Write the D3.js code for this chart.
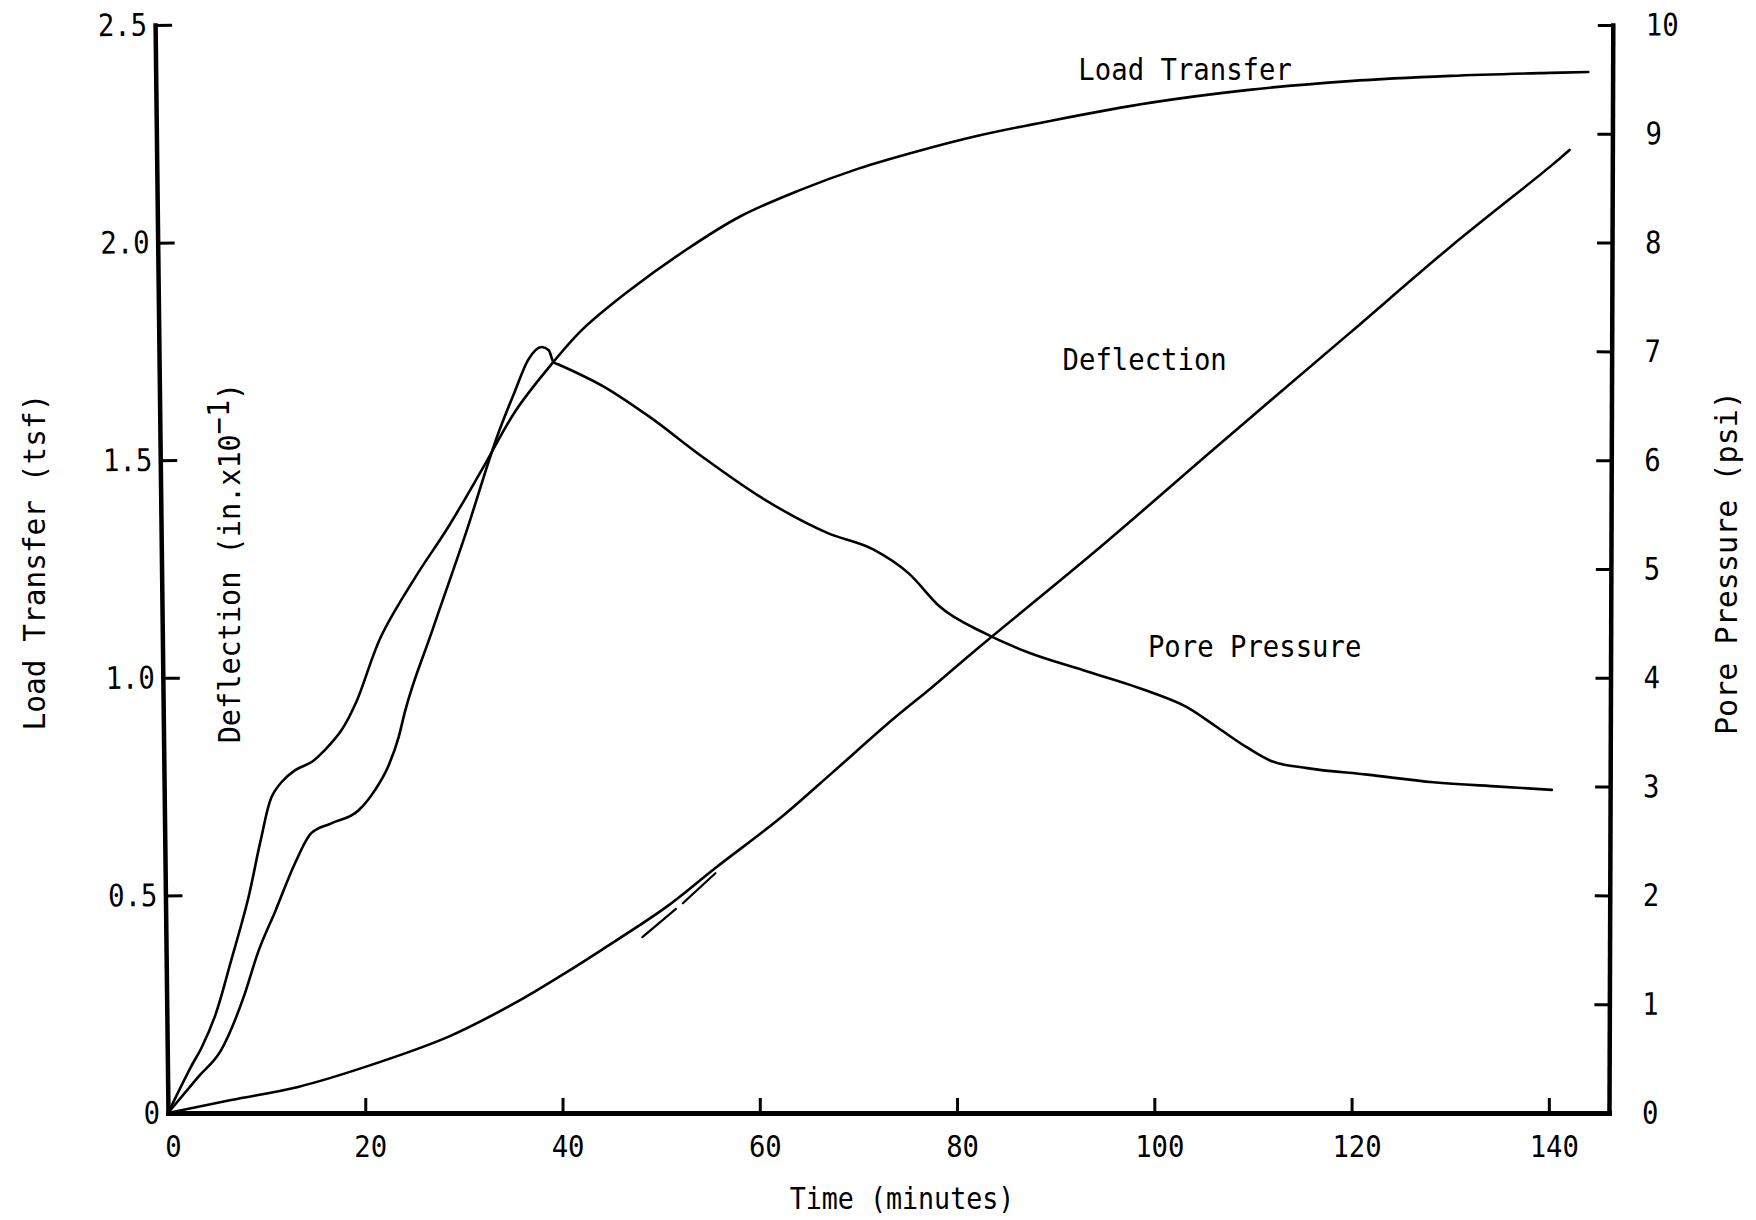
<!DOCTYPE html>
<html>
<head>
<meta charset="utf-8">
<script src="https://cdn.jsdelivr.net/npm/d3@7"></script>
<style>
  html, body { margin: 0; padding: 0; background: #fff; }
  svg { display: block; }
  text { font-family: "DejaVu Sans Mono", "Liberation Mono", monospace; fill: #000; }
</style>
</head>
<body>
<svg id="chart" width="1756" height="1220"></svg>
<script>
// ---- data ---------------------------------------------------------------
const timeTicks = [0, 20, 40, 60, 80, 100, 120, 140];
const timeTickLabels = ["0", "20", "40", "60", "80", "100", "120", "140"];
const leftTicks = [0, 0.5, 1.0, 1.5, 2.0, 2.5];
const leftTickLabels = ["0", "0.5", "1.0", "1.5", "2.0", "2.5"];
const rightTicks = [0, 1, 2, 3, 4, 5, 6, 7, 8, 9, 10];
const rightTickLabels = ["0", "1", "2", "3", "4", "5", "6", "7", "8", "9", "10"];

// Load transfer (tsf) vs time (minutes)
const loadTransfer = [
  [0, 0], [2.3, 0.105], [3.4, 0.15], [4.8, 0.225], [6.4, 0.35], [8.1, 0.49],
  [9.4, 0.627], [10.5, 0.726], [11.5, 0.76], [12.9, 0.788], [14.6, 0.807],
  [15.9, 0.834], [17.6, 0.88], [19.1, 0.945], [21.6, 1.095], [25.1, 1.232],
  [28.4, 1.346], [31.8, 1.477], [35.2, 1.612], [38.5, 1.71], [42, 1.8],
  [46.6, 1.887], [52.5, 1.983], [58, 2.06], [64, 2.12], [70, 2.17], [76, 2.21],
  [82, 2.245], [89.3, 2.279], [99.5, 2.321], [109.6, 2.351], [119.8, 2.371],
  [130, 2.383], [140.1, 2.39], [144, 2.392]
];

// Deflection (in. x 10^-1) vs time (minutes)
const deflection = [
  [0, 0], [6.4, 0.03], [13.2, 0.06], [20, 0.106], [28.4, 0.175], [35.2, 0.253],
  [40.3, 0.322], [43.7, 0.371], [50.5, 0.473], [55.5, 0.563], [62.2, 0.68],
  [67.3, 0.781], [73.4, 0.903], [77.5, 0.979], [81.9, 1.064], [94.5, 1.30],
  [105.9, 1.523], [119.8, 1.792], [130, 1.99], [140.1, 2.174], [142.1, 2.213]
];

// short retraced strokes alongside the deflection trace
const deflectionRetrace = [
  [[48.1, 0.404], [51.5, 0.469]],
  [[52.2, 0.482], [55.5, 0.551]]
];

// Pore pressure (psi) vs time (minutes)
const porePressure = [
  [0, 0], [3.05, 0.33], [5.4, 0.58], [7.8, 1.10], [9.1, 1.47], [10.9, 1.86],
  [12.9, 2.30], [14.5, 2.57], [16.5, 2.66], [19.3, 2.78], [21.0, 2.97],
  [22.3, 3.18], [23.4, 3.46], [24.0, 3.68], [26.7, 4.41], [30.2, 5.33],
  [33.5, 6.25], [35.2, 6.64], [36.5, 6.92], [37.9, 7.04], [38.6, 7.01],
  [39.1, 6.90], [39.6, 6.88], [44.3, 6.67], [48.8, 6.40], [54.2, 6.03],
  [60.1, 5.66], [66.9, 5.33], [71.5, 5.18], [75.1, 4.96], [78.3, 4.65],
  [82.8, 4.41], [87.3, 4.23], [92.8, 4.07], [99.6, 3.87], [103.3, 3.73],
  [106.3, 3.55], [109.4, 3.36], [112.0, 3.23], [115.5, 3.17], [121.6, 3.11],
  [128.3, 3.04], [135.0, 3.00], [140.3, 2.97]
];

// ---- layout ---------------------------------------------------------------
const svg = d3.select("#chart");
const FONT = 31;

const x = d3.scaleLinear().domain([0, 146.1]).range([168, 1609]);
const yL = d3.scaleLinear().domain([0, 2.5]).range([1113, 25]);
const yR = d3.scaleLinear().domain([0, 10]).range([1113, 25]);

function styleAxis(g, domainWidth) {
  g.attr("font-size", null).attr("font-family", null);
  g.select(".domain").attr("stroke", "#000").attr("stroke-width", domainWidth)
    .attr("stroke-linecap", "square");
  g.selectAll(".tick line").attr("stroke", "#000").attr("stroke-width", 3);
  g.selectAll(".tick text").attr("font-size", FONT).attr("class", "tick-label");
}

// condense monospace text horizontally
function condense(sel, f) {
  sel.each(function () {
    const w = this.getComputedTextLength();
    this.setAttribute("textLength", (w * f).toFixed(1));
    this.setAttribute("lengthAdjust", "spacingAndGlyphs");
  });
}

// bottom (time) axis
const gx = svg.append("g")
  .attr("transform", `translate(0,${yL(0)})`)
  .call(d3.axisBottom(x).tickValues(timeTicks)
    .tickFormat((d, i) => timeTickLabels[i])
    .tickSizeInner(-15).tickSizeOuter(0).tickPadding(22));
styleAxis(gx, 5);
gx.selectAll(".tick").filter(d => d === 0).select("line").remove();
gx.selectAll(".tick text").attr("dx", 5);

// left axis (load transfer / deflection)
const gl = svg.append("g")
  .attr("transform", `translate(${x(0)},0) rotate(-0.68,0,${yL(0)})`)
  .call(d3.axisLeft(yL).tickValues(leftTicks)
    .tickFormat((d, i) => leftTickLabels[i])
    .tickSizeInner(-17).tickSizeOuter(0).tickPadding(8));
styleAxis(gl, 4.5);
gl.selectAll(".tick").filter(d => d === 0).select("line").remove();

// right axis (pore pressure)
const gr = svg.append("g")
  .attr("transform", `translate(${x(146.1)},0) rotate(0.2,0,${yR(0)})`)
  .call(d3.axisRight(yR).tickValues(rightTicks)
    .tickFormat((d, i) => rightTickLabels[i])
    .tickSizeInner(-15).tickSizeOuter(0).tickPadding(33));
styleAxis(gr, 4.5);
gr.selectAll(".tick").filter(d => d === 0).select("line").remove();

// ---- curves -------------------------------------------------------------
const smoothL = d3.line().x(d => x(d[0])).y(d => yL(d[1])).curve(d3.curveCatmullRom.alpha(0.5));
const lineR = d3.line().x(d => x(d[0])).y(d => yR(d[1])).curve(d3.curveMonotoneX);

const curves = svg.append("g")
  .attr("fill", "none").attr("stroke", "#000")
  .attr("stroke-width", 2.6).attr("stroke-linejoin", "round").attr("stroke-linecap", "round");

curves.append("path").attr("d", smoothL(loadTransfer));
curves.append("path").attr("d", smoothL(deflection));
curves.append("path").attr("d", lineR(porePressure));
curves.selectAll("path.retrace").data(deflectionRetrace).join("path")
  .attr("class", "retrace").attr("stroke-width", 2.2)
  .attr("d", d => d3.line().x(p => x(p[0])).y(p => yL(p[1]))(d));

// ---- curve labels -------------------------------------------------------
const curveLabels = [
  { text: "Load Transfer", t: 92.3, v: 2.374 },
  { text: "Deflection", t: 90.7, v: 1.707 },
  { text: "Pore Pressure", t: 99.35, v: 1.048 }
];
const cl = svg.append("g").selectAll("text").data(curveLabels).join("text")
  .attr("x", d => x(d.t)).attr("y", d => yL(d.v))
  .attr("font-size", FONT).text(d => d.text);

// ---- axis titles --------------------------------------------------------
const titleLeft = svg.append("text")
  .attr("transform", "translate(45,562) rotate(-90)")
  .attr("text-anchor", "middle").attr("font-size", FONT)
  .text("Load Transfer (tsf)");

const titleDefl = svg.append("text")
  .attr("transform", "translate(240,563) rotate(-90)")
  .attr("text-anchor", "middle").attr("font-size", FONT);
titleDefl.append("tspan").text("Deflection (in.x10");
titleDefl.append("tspan").attr("dy", "-0.36em").text("\u22121");
titleDefl.append("tspan").attr("dy", "0.36em").text(")");

const titleRight = svg.append("text")
  .attr("transform", "translate(1737,563) rotate(-90)")
  .attr("text-anchor", "middle").attr("font-size", FONT)
  .text("Pore Pressure (psi)");

const titleBottom = svg.append("text")
  .attr("x", 902).attr("y", 1209)
  .attr("text-anchor", "middle").attr("font-size", FONT)
  .text("Time (minutes)");

// ---- condensed lettering -------------------------------------------------
condense(svg.selectAll(".tick-label"), 0.88);
condense(cl, 0.88);
condense(titleLeft, 0.95);
condense(titleDefl, 0.92);
condense(titleRight, 0.97);
condense(titleBottom, 0.86);
</script>
</body>
</html>
